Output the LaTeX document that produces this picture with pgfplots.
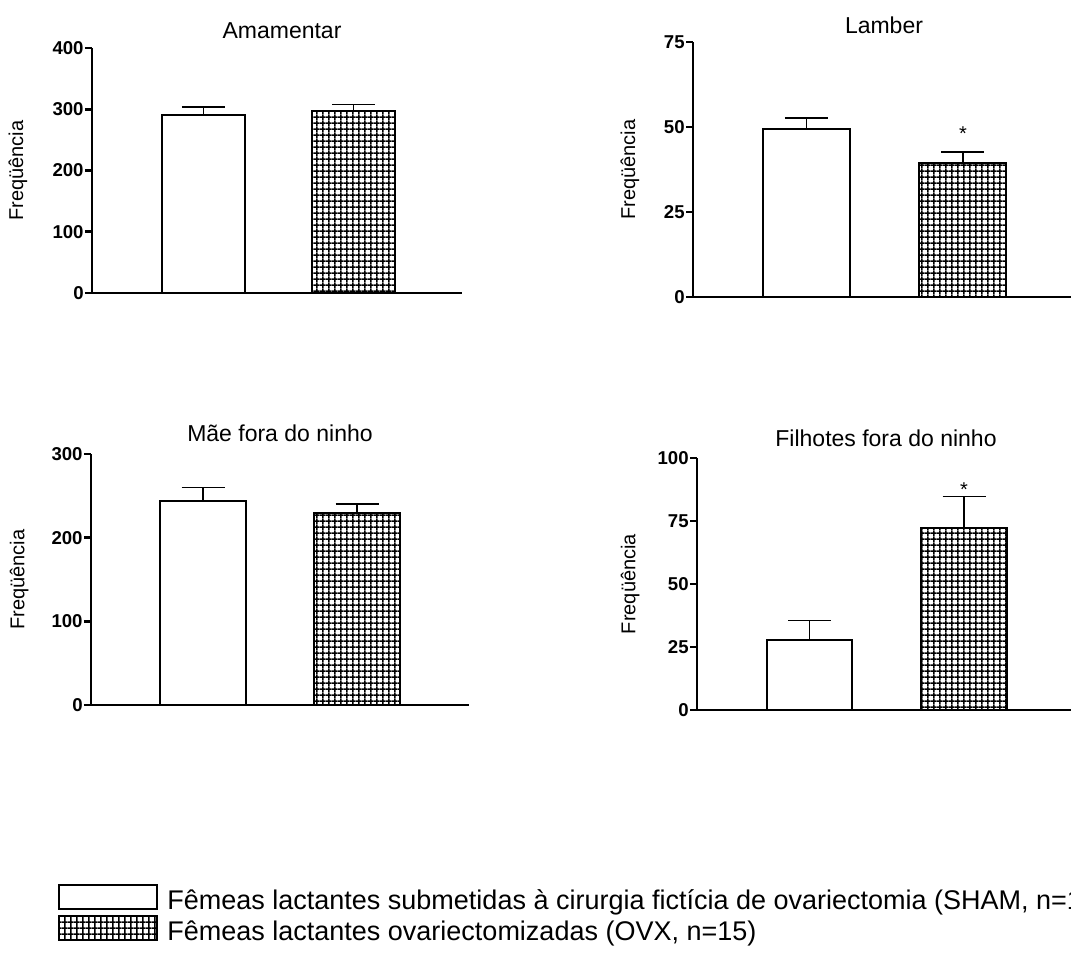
\documentclass[border=0pt]{standalone}
\usepackage{pgfplots}
\pgfplotsset{compat=1.18}
\usetikzlibrary{patterns}
\usepackage{fontspec}
\setmainfont{Liberation Sans}

\pgfdeclarepatternformonly{cellgrid}{\pgfqpoint{0pt}{0pt}}{\pgfqpoint{3.15pt}{3.15pt}}{\pgfqpoint{3.15pt}{3.15pt}}{%
  \pgfsetlinewidth{0.9pt}%
  \pgfpathmoveto{\pgfqpoint{0pt}{1.575pt}}\pgfpathlineto{\pgfqpoint{3.15pt}{1.575pt}}%
  \pgfpathmoveto{\pgfqpoint{1.575pt}{0pt}}\pgfpathlineto{\pgfqpoint{1.575pt}{3.15pt}}%
  \pgfusepath{stroke}}

\pgfplotsset{
  panel/.style={
    scale only axis, anchor=south west, clip=false,
    axis x line=bottom, axis y line=left,
    axis line style={-, line width=1.3pt},
    ymin=0, xtick=\empty,
    ytick style={line width=1.3pt, black},
    major tick length=3.5pt, tick align=outside,
    yticklabel style={font=\fontsize{9.3}{10}\selectfont\bfseries,
      /pgf/number format/assume math mode=true, inner xsep=0pt, xshift=-0.5pt},
    title style={font=\fontsize{11.5}{13}\selectfont, anchor=base, at={(0.5,1)}},
    ylabel={Freqüência},
    ylabel style={font=\fontsize{10}{12}\selectfont, anchor=center},
  },
  sham/.style={ybar, bar shift=0pt, draw=black, fill=white, line width=1pt,
    error bars/.cd, y dir=plus, y explicit, error mark=|,
    error bar style={line width=0.75pt, black},
    error mark options={line width=0.75pt, mark size=10.75pt, black}},
  ovx/.style={ybar, bar shift=0pt, draw=black, pattern=cellgrid, line width=1pt,
    error bars/.cd, y dir=plus, y explicit, error mark=|,
    error bar style={line width=0.75pt, black},
    error mark options={line width=0.75pt, mark size=10.75pt, black}},
}

\begin{document}
\begin{tikzpicture}
\useasboundingbox (0,0) rectangle (535.5pt,-477.5pt);

% Amamentar
\begin{axis}[panel, at={(46pt,-146.5pt)}, width=185pt, height=122.5pt,
  xmin=0.2567, xmax=2.7233, ymax=400, ytick={0,100,200,300,400},
  bar width=0.553, title={Amamentar}, title style={yshift=-1pt, xshift=2.5pt},
  ylabel style={at={(axis description cs:-0.2,0.5)}}]
\addplot[sham] coordinates {(1,290) +- (0,14)};
\addplot[ovx] coordinates {(2,297) +- (0,11)};
\end{axis}

% Lamber
\begin{axis}[panel, at={(346.5pt,-148.5pt)}, width=191pt, height=127.5pt,
  xmin=0.2748, xmax=2.716, ymax=75, ytick={0,25,50,75},
  bar width=0.556, title={Lamber}, title style={yshift=-1.5pt},
  ylabel style={at={(axis description cs:-0.165,0.5)}}]
\addplot[sham] coordinates {(1,49.5) +- (0,3.2)};
\addplot[ovx] coordinates {(2,39.5) +- (0,3.2)};
\node[font=\fontsize{10}{12}\selectfont] at (axis cs:2,48.1) {*};
\end{axis}

% Mae fora do ninho
\begin{axis}[panel, at={(45.5pt,-352.5pt)}, width=189pt, height=125.5pt,
  xmin=0.2727, xmax=2.727, ymax=300, ytick={0,100,200,300},
  bar width=0.558, title={Mãe fora do ninho}, title style={yshift=0.5pt},
  ylabel style={at={(axis description cs:-0.19,0.5)}}]
\addplot[sham] coordinates {(1,244) +- (0,16)};
\addplot[ovx] coordinates {(2,230) +- (0,10.5)};
\end{axis}

% Filhotes fora do ninho
\begin{axis}[panel, at={(348.5pt,-355pt)}, width=189pt, height=126pt,
  xmin=0.2718, xmax=2.718, ymax=100, ytick={0,25,50,75,100},
  bar width=0.553, title={Filhotes fora do ninho}, title style={yshift=0pt},
  ylabel style={at={(axis description cs:-0.177,0.5)}}]
\addplot[sham] coordinates {(1,27.7) +- (0,7.8)};
\addplot[ovx] coordinates {(2,72.3) +- (0,12.5)};
\node[font=\fontsize{10}{12}\selectfont] at (axis cs:2,87.3) {*};
\end{axis}

% legend
\draw[line width=1pt] (29.5pt,-454.5pt) rectangle (78.5pt,-442.5pt);
\node[anchor=base west, inner sep=0pt, font=\fontsize{13.5}{15}\selectfont] at (83.5pt,-454.5pt)
  {Fêmeas lactantes submetidas à cirurgia fictícia de ovariectomia (SHAM, n=15)};
\fill[pattern=cellgrid] (29.5pt,-470pt) rectangle (78.5pt,-458pt);
\draw[line width=1pt] (29.5pt,-470pt) rectangle (78.5pt,-458pt);
\node[anchor=base west, inner sep=0pt, font=\fontsize{13.5}{15}\selectfont] at (83.5pt,-470pt)
  {Fêmeas lactantes ovariectomizadas (OVX, n=15)};
\end{tikzpicture}
\end{document}
